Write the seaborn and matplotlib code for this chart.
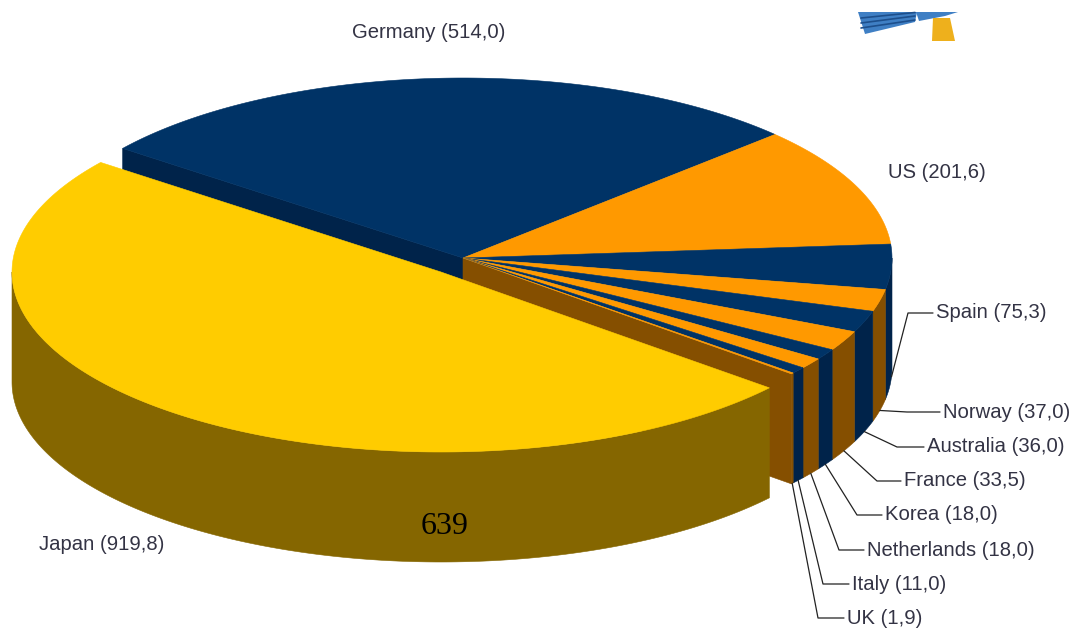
import numpy as np
import pandas as pd
import seaborn as sns
import matplotlib.pyplot as plt

countries = ["Germany", "US", "Spain", "Norway", "Australia", "France",
             "Korea", "Netherlands", "Italy", "UK", "Japan"]
capacity = [514.0, 201.6, 75.3, 37.0, 36.0, 33.5, 18.0, 18.0, 11.0, 1.9, 919.8]
capacity_text = ["514,0", "201,6", "75,3", "37,0", "36,0", "33,5",
                 "18,0", "18,0", "11,0", "1,9", "919,8"]
page_number = "639"

NAVY, ORANGE, YELLOW = "#003366", "#ff9900", "#ffcc00"
NAVY_D, ORANGE_D, YELLOW_D = "#00234a", "#854f00", "#856600"
top_colors = [NAVY, ORANGE] * 5 + [YELLOW]
wall_colors = [NAVY_D, ORANGE_D] * 5 + [YELLOW_D]

# pie layout in pixels
CX, CY, RX, RY, DEPTH = 463, 258, 429, 180, 110
START = 142.5
JAPAN_SHIFT = (-22, 14)

# label anchors, then leader elbows (None = no leader)
label_xy = [(352, 32), (888, 173), (936, 313), (943, 413), (927, 447), (904, 481),
            (885, 515), (867, 550), (852, 584), (847, 618), (39, 545)]
elbow_xy = [None, None, (908, 313), (907, 412), (897, 447), (877, 481),
            (857, 515), (839, 550), (823, 584), (818, 618), None]

sns.set_theme(style="white")
plt.rcParams["font.family"] = ["Liberation Sans", "DejaVu Sans"]

df = pd.DataFrame({"country": countries, "value": capacity, "text": capacity_text})
df["sweep"] = df["value"] / df["value"].sum() * 360
df["a1"] = START - df["sweep"].cumsum().shift(fill_value=0)
df["a2"] = df["a1"] - df["sweep"]

fig = plt.figure(figsize=(10.82, 6.28), dpi=100)
ax = fig.add_axes([0, 0, 1, 1])
ax.set_xlim(0, 1082)
ax.set_ylim(628, 0)
ax.axis("off")


def arc(a1, a2, ox=0, oy=0):
    t = np.radians(np.linspace(a1, a2, 200))
    return CX + ox + RX * np.cos(t), CY + oy - RY * np.sin(t)


def fill(x, y, color, z):
    ax.fill(x, y, color=color, lw=0.4, zorder=z)


def wall(a1, a2, color, ox=0, oy=0, z=2):
    # only the part of the rim that faces the viewer
    a1, a2 = min(a1, 0), max(a2, -180)
    if a1 <= a2:
        return
    x, y = arc(a1, a2, ox, oy)
    fill(np.r_[x, x[::-1]], np.r_[y, y[::-1] + DEPTH], color, z)


def cut_face(angle, color, z=1):
    x, y = arc(angle, angle)
    fill([CX, x[0], x[0], CX], [CY, y[0], y[0] + DEPTH, CY + DEPTH], color, z)


# cut faces either side of the gap left by Japan
cut_face(df.a1[0], NAVY_D)
cut_face(df.a2[9], ORANGE_D)

for i, row in df.iterrows():
    if row.country == "Japan":
        ox, oy = JAPAN_SHIFT
        wall(row.a1, row.a2, wall_colors[i], ox, oy, z=5)
        x, y = arc(row.a1, row.a2, ox, oy)
        fill(np.r_[CX + ox, x], np.r_[CY + oy, y], top_colors[i], 6)
    else:
        wall(row.a1, row.a2, wall_colors[i])
        x, y = arc(row.a1, row.a2)
        fill(np.r_[CX, x], np.r_[CY, y], top_colors[i], 3)

# labels and leaders
for i, row in df.iterrows():
    lx, ly = label_xy[i]
    ax.text(lx, ly, f"{row.country} ({row.text})", fontsize=14.6, color="#333344",
            va="center", ha="left", zorder=8)
    if elbow_xy[i] is not None:
        x, y = arc((row.a1 + row.a2) / 2, (row.a1 + row.a2) / 2)
        ex, ey = elbow_xy[i]
        ax.plot([x[0], ex, lx - 3], [y[0] + DEPTH, ey, ey], color="#222222", lw=0.9, zorder=7)

ax.text(445, 527, page_number, fontsize=23, family=["Liberation Serif"], color="black",
        ha="center", va="center", zorder=9)

# bit of the cropped logo at the top of the page
ax.fill([858, 917, 915, 865], [12, 12, 22, 34], color="#3f7fc4", lw=0, zorder=1)
ax.fill([916, 958, 945, 919], [12, 12, 16, 21], color="#3f7fc4", lw=0, zorder=1)
for y0, y1 in [(18, 12.5), (23, 16), (28, 20)]:
    ax.plot([861, 915], [y0, y1], color="#1d4f8c", lw=1.2, zorder=2)
ax.fill([933, 950, 955, 932], [18, 18, 41, 41], color="#eeb01c", lw=0, zorder=2)

fig.savefig("out.png", dpi=100)
